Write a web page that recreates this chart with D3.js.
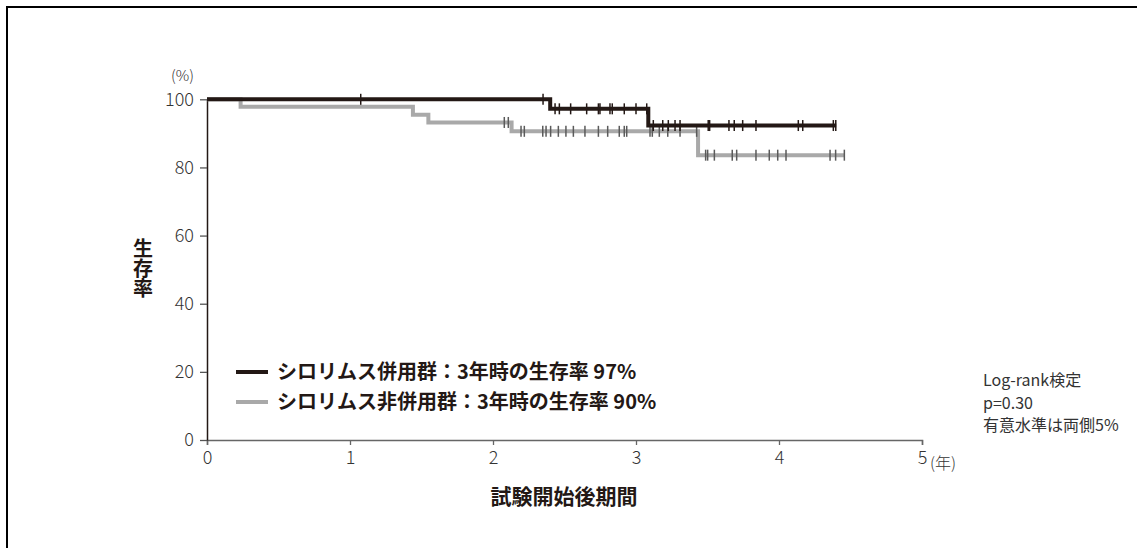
<!DOCTYPE html>
<html><head><meta charset="utf-8">
<script src="https://cdn.jsdelivr.net/npm/d3@7"></script>
<style>
body{margin:0;background:#fff;}
svg{display:block;font-family:"Noto Sans CJK JP","Noto Sans",sans-serif;}
</style></head>
<body><svg id="c" width="1137" height="548"></svg>
<script>
// ---- data ----
const xTicks = [0,1,2,3,4,5];
const yTicks = [0,20,40,60,80,100];
// step curves: [time, survival%]
const sirolimusSteps = [[0,100],[2.40,97.2],[3.086,92.3],[4.40,92.3]];
const sirolimusCensor = [1.075,2.35,2.434,2.464,2.543,2.655,2.737,2.748,2.818,2.834,2.918,3.0,3.075,
  3.121,3.187,3.226,3.273,3.308,3.505,3.515,3.65,3.687,3.746,3.839,4.135,4.166,4.38,4.397];
const controlSteps = [[0,100],[0.235,97.8],[1.44,95.5],[1.548,93.2],[2.13,90.6],[3.434,83.6],[4.46,83.6]];
const controlCensor = [2.079,2.107,2.196,2.219,2.348,2.371,2.403,2.457,2.51,2.562,2.643,2.737,2.802,2.883,
  2.918,2.935,3.098,3.114,3.163,3.222,3.308,3.424,
  3.487,3.501,3.548,3.673,3.704,3.839,3.932,3.991,4.049,4.357,4.396,4.457];
const legendLabels = ["シロリムス併用群：3年時の生存率 97%","シロリムス非併用群：3年時の生存率 90%"];
const noteLines = ["Log-rank検定","p=0.30","有意水準は両側5%"];

const BLACK="#231815", GRAY="#a9a9a9";
const svg = d3.select("#c");
// frame
svg.append("path").attr("d","M7,548V7H1137").attr("fill","none").attr("stroke","#000").attr("stroke-width",2);

const x = d3.scaleLinear().domain([0,5]).range([207,922]);
const y = d3.scaleLinear().domain([0,100]).range([440,99.3]);

// x axis
const gx = svg.append("g").attr("transform","translate(0,440)")
  .call(d3.axisBottom(x).tickValues(xTicks).tickSize(5).tickPadding(6).tickFormat(d3.format("d")));
gx.select(".domain").attr("stroke","#666").attr("stroke-width",1.5);
gx.selectAll(".tick line").attr("stroke","#666").attr("stroke-width",1.3);
gx.selectAll(".tick text").attr("font-size",18).attr("font-weight",300).attr("fill","#333")
  .attr("font-family","'Noto Sans CJK JP',sans-serif");
svg.append("text").attr("x",x(5)+8).attr("y",469).attr("font-size",16).attr("fill","#333").attr("font-weight",300).text("(年)");

// y axis
const gy = svg.append("g").attr("transform","translate(207,0)")
  .call(d3.axisLeft(y).tickValues(yTicks).tickSize(7).tickPadding(6).tickSizeOuter(0));
gy.select(".domain").attr("stroke",BLACK).attr("stroke-width",1.5);
gy.selectAll(".tick line").attr("stroke","#555").attr("stroke-width",1.3);
gy.selectAll(".tick text").attr("font-size",18).attr("font-weight",300).attr("fill","#333")
  .attr("font-family","'Noto Sans CJK JP',sans-serif");
svg.append("text").attr("x",194).attr("y",81).attr("text-anchor","end").attr("font-size",15).attr("fill","#333").attr("font-weight",300).text("(%)");

// axis titles
svg.append("text").attr("x",143).attr("y",238).attr("font-size",20).attr("font-weight",700).attr("fill",BLACK)
  .style("writing-mode","vertical-rl").style("text-orientation","upright").text("生存率");
svg.append("text").attr("x",564).attr("y",504).attr("text-anchor","middle").attr("font-size",21).attr("font-weight",700).attr("fill",BLACK).text("試験開始後期間");

// curves
const line = d3.line().x(d=>x(d[0])).y(d=>y(d[1])).curve(d3.curveStepAfter);
function valAt(steps,t){let v=steps[0][1];for(const s of steps){if(s[0]<=t)v=s[1];}return v;}
function drawCurve(steps,censor,color,markColor){
  svg.append("path").datum(steps).attr("d",line).attr("fill","none").attr("stroke",color).attr("stroke-width",4);
  svg.append("g").selectAll("line").data(censor).join("line")
    .attr("x1",d=>x(d)).attr("x2",d=>x(d))
    .attr("y1",d=>y(valAt(steps,d))-5.5).attr("y2",d=>y(valAt(steps,d))+5.5)
    .attr("stroke",markColor).attr("stroke-width",1.5);
}
drawCurve(controlSteps,controlCensor,GRAY,"#5a5a5a");
drawCurve(sirolimusSteps,sirolimusCensor,BLACK,BLACK);

// legend
const leg = svg.append("g");
[[BLACK,372],[GRAY,402]].forEach(([c,yy],i)=>{
  leg.append("line").attr("x1",236).attr("x2",268).attr("y1",yy).attr("y2",yy).attr("stroke",c).attr("stroke-width",4);
  leg.append("text").attr("x",277).attr("y",yy+7).attr("font-size",20).attr("font-weight",700).attr("fill",BLACK).text(legendLabels[i]);
});

// note
noteLines.forEach((t,i)=>svg.append("text").attr("x",983).attr("y",386+i*22.5).attr("font-size",16).attr("fill","#333").attr("font-weight",400).text(t));
</script></body></html>
